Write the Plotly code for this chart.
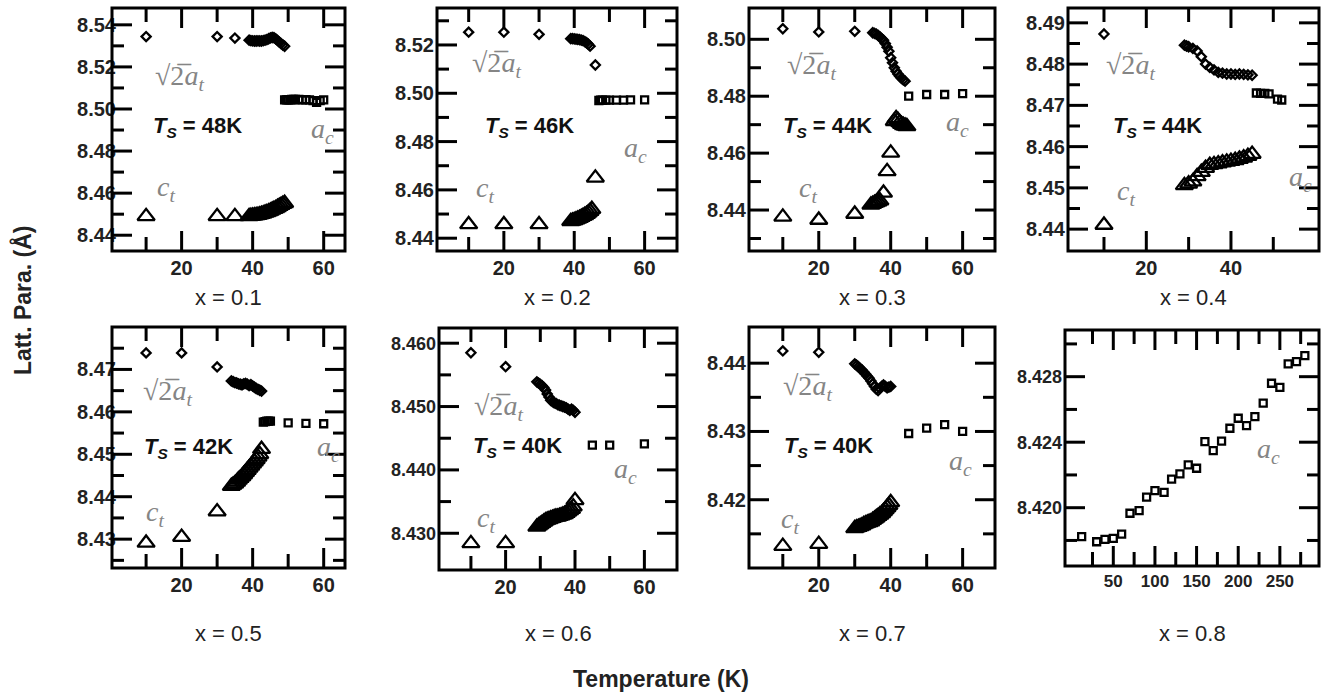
import plotly.graph_objects as go

W, H = 1322, 696

# ---------------- data (T in K, lattice parameter in Angstrom) ----------------
T_dia_1 = [10, 30, 35, 39, 39.5, 40, 40.5, 41, 41.5, 42, 42.5, 43, 43.5, 44, 44.5, 45, 45.5, 46, 46.5, 47, 47.5, 48, 48.5, 49]
V_dia_1 = [8.5344, 8.5344, 8.5337, 8.5327, 8.5325, 8.5324, 8.5323, 8.5323, 8.5324, 8.5323, 8.5323, 8.5325, 8.5327, 8.5330,
           8.5334, 8.5338, 8.5340, 8.5339, 8.5333, 8.5326, 8.5318, 8.5311, 8.5304, 8.5298]
T_sq_1 = [49, 49.5, 50, 50.5, 51, 51.5, 52, 53, 54, 55, 56, 57, 58, 59, 60]
V_sq_1 = [8.5043, 8.5043, 8.5044, 8.5044, 8.5045, 8.5045, 8.5045, 8.5045, 8.5044, 8.5044, 8.5043, 8.5040, 8.5032, 8.5040, 8.5043]
T_tri_1 = [10, 30, 35, 39, 39.5, 40, 40.5, 41, 41.5, 42, 42.5, 43, 43.5, 44, 44.5, 45, 45.5, 46, 46.5, 47, 47.5, 48, 48.5, 49]
V_tri_1 = [8.4490, 8.4490, 8.4490, 8.4490, 8.4491, 8.4492, 8.4493, 8.4494, 8.4496, 8.4498, 8.4500, 8.4503, 8.4506, 8.4509,
           8.4512, 8.4516, 8.4520, 8.4524, 8.4528, 8.4533, 8.4538, 8.4543, 8.4548, 8.4552]
T_dia_2 = [10, 20, 30, 39, 39.5, 40, 40.5, 41, 41.5, 42, 42.5, 43, 43.5, 44, 44.5, 46]
V_dia_2 = [8.5253, 8.5253, 8.5244, 8.5226, 8.5226, 8.5225, 8.5224, 8.5223, 8.5222, 8.5220, 8.5218, 8.5214, 8.5209, 8.5203, 8.5195, 8.5117]
T_sq_2 = [47, 47.5, 48, 49, 50, 52, 54, 56, 60]
V_sq_2 = [8.4970, 8.4971, 8.4972, 8.4972, 8.4972, 8.4972, 8.4972, 8.4973, 8.4973]
T_tri_2 = [10, 20, 30, 39, 39.5, 40, 40.5, 41, 41.5, 42, 42.5, 43, 43.5, 44, 44.5, 45, 46]
V_tri_2 = [8.4457, 8.4457, 8.4457, 8.4470, 8.4472, 8.4474, 8.4477, 8.4480, 8.4483, 8.4487, 8.4491, 8.4495, 8.4500, 8.4506,
           8.4512, 8.4520, 8.4650]
T_dia_3 = [10, 20, 30, 35, 35.5, 36, 36.5, 37, 37.5, 38, 38.5, 39, 39.5, 40, 40.5, 41, 41.5, 42, 42.5, 43, 43.5, 44]
V_dia_3 = [8.5037, 8.5026, 8.5028, 8.5023, 8.5021, 8.5018, 8.5014, 8.5008, 8.5002, 8.4997, 8.4985, 8.4972, 8.4958, 8.4935,
           8.4918, 8.4900, 8.4888, 8.4878, 8.4870, 8.4863, 8.4858, 8.4853]
T_sq_3 = [45, 50, 55, 60]
V_sq_3 = [8.4800, 8.4806, 8.4806, 8.4809]
T_tri_3 = [10, 20, 30, 34.5, 35, 35.5, 36, 36.5, 37, 38, 39, 40, 41, 41.5, 42, 42.5, 43, 43.5, 44, 44.5]
V_tri_3 = [8.4376, 8.4365, 8.4386, 8.4418, 8.4421, 8.4424, 8.4427, 8.4430, 8.4433, 8.4460, 8.4536, 8.4601, 8.4712, 8.4722,
           8.4716, 8.4708, 8.4702, 8.4698, 8.4696, 8.4694]
T_dia_4 = [10, 29, 29.5, 30, 31, 32, 33, 34, 35, 36, 37, 38, 39, 40, 41, 42, 43, 44, 45]
V_dia_4 = [8.4873, 8.4846, 8.4844, 8.4842, 8.4838, 8.4832, 8.4818, 8.4800, 8.4792, 8.4786, 8.4780, 8.4778, 8.4776, 8.4776,
           8.4775, 8.4776, 8.4775, 8.4774, 8.4773]
T_sq_4 = [46, 47, 48, 49, 51, 52]
V_sq_4 = [8.4730, 8.4729, 8.4729, 8.4728, 8.4715, 8.4713]
T_tri_4 = [10, 29, 30, 31, 32, 33, 34, 35, 36, 37, 38, 39, 40, 41, 42, 43, 44, 45]
V_tri_4 = [8.4410, 8.4506, 8.4510, 8.4515, 8.4528, 8.4538, 8.4548, 8.4555, 8.4557, 8.4559, 8.4561, 8.4563, 8.4565, 8.4567,
           8.4570, 8.4573, 8.4577, 8.4582]
T_dia_5 = [10, 20, 30, 34, 34.5, 35, 35.5, 36, 36.5, 37, 37.5, 38, 38.5, 39, 39.5, 40, 40.5, 41, 41.5, 42, 42.5]
V_dia_5 = [8.4739, 8.4739, 8.4706, 8.4673, 8.4671, 8.4669, 8.4668, 8.4666, 8.4665, 8.4664, 8.4666, 8.4667, 8.4665, 8.4662,
           8.4664, 8.4661, 8.4658, 8.4655, 8.4653, 8.4651, 8.4649]
T_sq_5 = [43, 43.5, 44, 44.5, 45, 50, 55, 60]
V_sq_5 = [8.4576, 8.4577, 8.4578, 8.4578, 8.4578, 8.4574, 8.4573, 8.4572]
T_tri_5 = [10, 20, 30, 34, 34.5, 35, 35.5, 36, 36.5, 37, 37.5, 38, 38.5, 39, 39.5, 40, 40.5, 41, 41.5, 42, 42.5]
V_tri_5 = [8.4291, 8.4305, 8.4365, 8.4425, 8.4428, 8.4431, 8.4435, 8.4440, 8.4444, 8.4448, 8.4453, 8.4458, 8.4463, 8.4468,
           8.4473, 8.4478, 8.4483, 8.4488, 8.4494, 8.4500, 8.4512]
T_dia_6 = [10, 20, 29, 29.5, 30, 30.5, 31, 31.5, 32, 32.5, 33, 33.5, 34, 34.5, 35, 35.5, 36, 36.5, 37, 37.5, 38, 38.5, 39, 39.5, 40]
V_dia_6 = [8.4585, 8.4563, 8.4539, 8.4537, 8.4535, 8.4533, 8.4530, 8.4526, 8.4520, 8.4515, 8.4510, 8.4508, 8.4506, 8.4505,
           8.4503, 8.4502, 8.4501, 8.4500, 8.4499, 8.4498, 8.4496, 8.4494, 8.4496, 8.4494, 8.4491]
T_sq_6 = [45, 50, 60]
V_sq_6 = [8.4439, 8.4439, 8.4441]
T_tri_6 = [10, 20, 29, 29.5, 30, 30.5, 31, 31.5, 32, 32.5, 33, 33.5, 34, 34.5, 35, 35.5, 36, 36.5, 37, 37.5, 38, 38.5, 39, 39.5, 40]
V_tri_6 = [8.4284, 8.4284, 8.4310, 8.4312, 8.4314, 8.4316, 8.4318, 8.4320, 8.4321, 8.4322, 8.4323, 8.4324, 8.4325, 8.4326,
           8.4326, 8.4327, 8.4328, 8.4329, 8.4330, 8.4332, 8.4334, 8.4336, 8.4338, 8.4342, 8.4352]
T_dia_7 = [10, 20, 30, 30.5, 31, 31.5, 32, 32.5, 33, 33.5, 34, 34.5, 35, 35.5, 36, 36.5, 37, 37.5, 38, 38.5, 39, 39.5, 40]
V_dia_7 = [8.4418, 8.4416, 8.4399, 8.4397, 8.4395, 8.4392, 8.4390, 8.4387, 8.4384, 8.4381, 8.4378, 8.4374, 8.4370, 8.4366,
           8.4362, 8.4360, 8.4363, 8.4366, 8.4368, 8.4366, 8.4364, 8.4365, 8.4366]
T_sq_7 = [45, 50, 55, 60]
V_sq_7 = [8.4297, 8.4305, 8.4310, 8.4300]
T_tri_7 = [10, 20, 30, 30.5, 31, 31.5, 32, 32.5, 33, 33.5, 34, 34.5, 35, 35.5, 36, 36.5, 37, 37.5, 38, 38.5, 39, 39.5, 40]
V_tri_7 = [8.4132, 8.4135, 8.4158, 8.4159, 8.4160, 8.4161, 8.4162, 8.4164, 8.4165, 8.4166, 8.4167, 8.4168, 8.4170, 8.4172,
           8.4174, 8.4176, 8.4178, 8.4180, 8.4183, 8.4186, 8.4189, 8.4192, 8.4196]
T_sq_8 = [12, 30, 40, 50, 60, 70, 81, 90, 100, 111, 120, 130, 140, 150, 160, 170, 180, 190, 200, 210, 220, 230, 240, 250,
          260, 270, 280]
V_sq_8 = [8.41823, 8.41792, 8.41807, 8.41813, 8.41839, 8.41966, 8.41982, 8.42064, 8.42104, 8.42094, 8.42175, 8.42206,
          8.42261, 8.42241, 8.42403, 8.42348, 8.42407, 8.42485, 8.42546, 8.42501, 8.42556, 8.42638, 8.42760, 8.42735,
          8.42878, 8.42892, 8.42928]

compositions = ["x = 0.1", "x = 0.2", "x = 0.3", "x = 0.4", "x = 0.5", "x = 0.6", "x = 0.7", "x = 0.8"]
ts_labels = ["48K", "46K", "44K", "44K", "42K", "40K", "40K", None]

series = [
    (T_dia_1, V_dia_1, T_sq_1, V_sq_1, T_tri_1, V_tri_1),
    (T_dia_2, V_dia_2, T_sq_2, V_sq_2, T_tri_2, V_tri_2),
    (T_dia_3, V_dia_3, T_sq_3, V_sq_3, T_tri_3, V_tri_3),
    (T_dia_4, V_dia_4, T_sq_4, V_sq_4, T_tri_4, V_tri_4),
    (T_dia_5, V_dia_5, T_sq_5, V_sq_5, T_tri_5, V_tri_5),
    (T_dia_6, V_dia_6, T_sq_6, V_sq_6, T_tri_6, V_tri_6),
    (T_dia_7, V_dia_7, T_sq_7, V_sq_7, T_tri_7, V_tri_7),
    (None, None, T_sq_8, V_sq_8, None, None),
]

# ---------------- layout geometry (pixels) ----------------
frames = [
    (112, 345, 8, 251), (437, 677, 8, 251), (749, 995, 8, 251), (1068, 1319, 8, 251),
    (112, 345, 327, 568), (439, 677, 328, 570), (749, 995, 327, 568), (1065, 1319, 330, 566),
]
xranges = [[0.4, 66], [1.0, 69.2], [0.6, 69], [1.5, 60.8], [0.4, 66], [0.8, 69.4], [0.6, 69], [-8, 297]]
yranges = [[8.4325, 8.548], [8.4347, 8.5353], [8.4256, 8.511], [8.4347, 8.4936],
           [8.4232, 8.480], [8.4242, 8.4624], [8.410, 8.4453], [8.41644, 8.43085]]
x_major = [[20, 40, 60]] * 3 + [[20, 40]] + [[20, 40, 60]] * 3 + [[50, 100, 150, 200, 250]]
x_minor = [[10, 30, 50]] * 7 + [[25, 75, 125, 175, 225, 275]]
y_major = [
    [8.44, 8.46, 8.48, 8.50, 8.52, 8.54], [8.44, 8.46, 8.48, 8.50, 8.52], [8.44, 8.46, 8.48, 8.50],
    [8.44, 8.45, 8.46, 8.47, 8.48, 8.49], [8.43, 8.44, 8.45, 8.46, 8.47], [8.430, 8.440, 8.450, 8.460],
    [8.42, 8.43, 8.44], [8.420, 8.424, 8.428]]
y_minor = [
    [8.45, 8.47, 8.49, 8.51, 8.53], [8.45, 8.47, 8.49, 8.51, 8.53], [8.43, 8.45, 8.47, 8.49],
    [8.445, 8.455, 8.465, 8.475, 8.485], [8.425, 8.435, 8.445, 8.455, 8.465, 8.475], [8.435, 8.445, 8.455],
    [8.415, 8.425, 8.435], [8.418, 8.422, 8.426, 8.430]]
y_dec = [2, 2, 2, 2, 2, 3, 2, 3]
y_font = [20, 20, 20, 20, 20, 18, 20, 18]
y_standoff = [-5, 2, 2, 2, -5, 2, 2, 2]

lab_sqrt = [(179, 77), (496, 65), (811, 66), (1130, 66), (167, 392), (498, 407), (807, 387), None]
lab_ts = [(197, 127), (529, 127), (827, 127), (1157, 127), (188, 448), (517, 447), (828, 447), None]
lab_ct = [(166, 188), (485, 190), (808, 190), (1126, 192), (155, 513), (486, 519), (790, 520), None]
lab_ac = [(322, 130), (635, 150), (957, 123), (1300, 178), (328, 448), (625, 470), (960, 462), (1268, 450)]

FONT = "Liberation Sans"
SERIF = "Liberation Serif"
GRAY = "#858585"
TICK_MAJOR, TICK_MINOR_X, TICK_MINOR_Y, TICK_W = 20, 14, 12, 3


def px(xp):
    return xp / W


def py(yp):
    return 1 - yp / H


fig = go.Figure()
annotations = []
shapes = []
layout_axes = {}

for i in range(8):
    k = "" if i == 0 else str(i + 1)
    xa, ya = "x" + k, "y" + k
    Td, Vd, Ts, Vs, Tt, Vt = series[i]
    if Td is not None:
        fig.add_trace(go.Scatter(x=Td, y=Vd, mode="markers", xaxis=xa, yaxis=ya, showlegend=False,
                                 marker=dict(symbol="diamond-open", size=7, color="black", line=dict(width=2.3, color="black"))))
    if Tt is not None:
        fig.add_trace(go.Scatter(x=Tt, y=Vt, mode="markers", xaxis=xa, yaxis=ya, showlegend=False,
                                 marker=dict(symbol="triangle-up-open", size=15, color="black", line=dict(width=2.3, color="black"))))
    fig.add_trace(go.Scatter(x=Ts, y=Vs, mode="markers", xaxis=xa, yaxis=ya, showlegend=False,
                             marker=dict(symbol="square-open", size=7, color="black", line=dict(width=2.3, color="black"))))

    l, r, t, b = frames[i]
    layout_axes["xaxis" + k] = dict(
        domain=[px(l), px(r)], range=xranges[i], anchor=ya,
        showline=False, ticks="", tickmode="array", tickvals=x_major[i],
        ticktext=["<b>%d</b>" % v for v in x_major[i]],
        showgrid=False, zeroline=False, ticklabelstandoff=3,
        tickfont=dict(family=FONT, size=20 if i < 7 else 17, color="#222", weight="bold"))
    layout_axes["yaxis" + k] = dict(
        domain=[py(b), py(t)], range=yranges[i], anchor=xa,
        showline=False, ticks="", tickmode="array", tickvals=y_major[i],
        ticktext=["<b>%.*f</b>" % (y_dec[i], v) for v in y_major[i]],
        showgrid=False, zeroline=False, ticklabelstandoff=y_standoff[i],
        tickfont=dict(family=FONT, size=y_font[i], color="#222", weight="bold"))

    # frame
    shapes.append(dict(type="rect", xref=xa + " domain", yref=ya + " domain", x0=0, x1=1, y0=0, y1=1,
                       line=dict(color="black", width=3), layer="above"))
    # inside tick marks, mirrored on all four sides (positions on the axes' own scales)
    for vals, L in ((x_major[i], TICK_MAJOR), (x_minor[i], TICK_MINOR_X)):
        for v in vals:
            for anchor, sgn in ((0, 1), (1, -1)):
                shapes.append(dict(type="line", xref=xa, yref=ya + " domain", ysizemode="pixel", yanchor=anchor,
                                   x0=v, x1=v, y0=0, y1=sgn * L, line=dict(color="black", width=TICK_W), layer="above"))
    for vals, L in ((y_major[i], TICK_MAJOR), (y_minor[i], TICK_MINOR_Y)):
        for v in vals:
            for anchor, sgn in ((0, 1), (1, -1)):
                shapes.append(dict(type="line", xref=xa + " domain", yref=ya, xsizemode="pixel", xanchor=anchor,
                                   x0=0, x1=sgn * L, y0=v, y1=v, line=dict(color="black", width=TICK_W), layer="above"))

    annotations.append(dict(text=compositions[i], x=px((l + r) / 2), y=py(298 if i < 4 else 633),
                            xref="paper", yref="paper", showarrow=False, xanchor="center", yanchor="middle",
                            font=dict(family=FONT, size=22, color="#222")))
    if lab_sqrt[i]:
        annotations.append(dict(text="√2\u0305<i>a</i><sub><i>t</i></sub>", x=px(lab_sqrt[i][0]), y=py(lab_sqrt[i][1]),
                                xref="paper", yref="paper", showarrow=False, xanchor="center", yanchor="middle",
                                font=dict(family=SERIF, size=28, color=GRAY)))
    if lab_ts[i]:
        annotations.append(dict(text="<b><i>T</i><sub><i>S</i></sub> = " + ts_labels[i] + "</b>",
                                x=px(lab_ts[i][0]), y=py(lab_ts[i][1]),
                                xref="paper", yref="paper", showarrow=False, xanchor="center", yanchor="middle",
                                font=dict(family=FONT, size=22, color="#111")))
    if lab_ct[i]:
        annotations.append(dict(text="<i>c</i><sub><i>t</i></sub>", x=px(lab_ct[i][0]), y=py(lab_ct[i][1]),
                                xref="paper", yref="paper", showarrow=False, xanchor="center", yanchor="middle",
                                font=dict(family=SERIF, size=28, color=GRAY)))
    annotations.append(dict(text="<i>a</i><sub><i>c</i></sub>", x=px(lab_ac[i][0]), y=py(lab_ac[i][1]),
                            xref="paper", yref="paper", showarrow=False, xanchor="center", yanchor="middle",
                            font=dict(family=SERIF, size=28, color=GRAY)))

annotations.append(dict(text="<b>Latt. Para. (Å)</b>", x=px(22), y=py(300), xref="paper", yref="paper",
                        showarrow=False, textangle=-90, xanchor="center", yanchor="middle",
                        font=dict(family=FONT, size=23, color="#222")))
annotations.append(dict(text="<b>Temperature (K)</b>", x=px(661), y=py(679), xref="paper", yref="paper",
                        showarrow=False, xanchor="center", yanchor="middle",
                        font=dict(family=FONT, size=23, color="#222")))

fig.update_layout(width=W, height=H, margin=dict(l=0, r=0, t=0, b=0),
                  paper_bgcolor="white", plot_bgcolor="white",
                  annotations=annotations, shapes=shapes, **layout_axes)

fig.write_html("out.html")
